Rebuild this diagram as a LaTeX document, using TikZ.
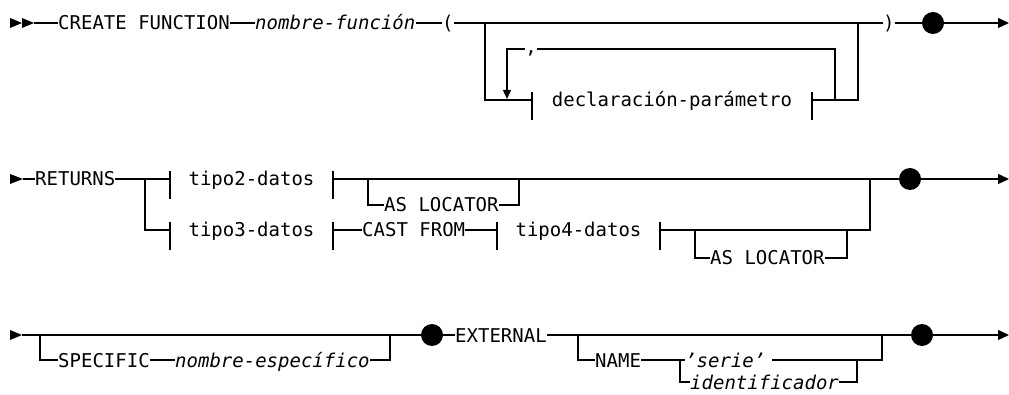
\documentclass[tikz,border=0pt]{standalone}
\usepackage{fontspec}
\setmainfont{DejaVu Sans Mono}
\usetikzlibrary{arrows.meta}
\tikzset{
  rr/.style={line width=1.3pt},
  txt/.style={inner xsep=0pt, inner ysep=0pt, text height=14pt, text depth=0pt, anchor=west, font=\fontsize{19}{22}\selectfont},
  itx/.style={txt, font=\fontsize{19}{22}\selectfont\itshape},
  dot/.style={circle, fill=black, minimum size=22pt, inner sep=0pt},
  endarrow/.style={rr, -{Triangle[length=11pt,width=10pt]}},
  looparrow/.style={rr, -{Triangle[length=9pt,width=8pt]}},
  startmark/.style={fill=black},
}
\newcommand{\barpair}[3]{% left x, right x, line y
  \draw[rr] (#1,#3-8) -- (#1,#3+20);
  \draw[rr] (#2,#3-8) -- (#2,#3+20);
}
\begin{document}
\begin{tikzpicture}[x=1pt,y=-1pt]
\useasboundingbox (0,0) rectangle (1009,395);
% ---------------- row 1
\fill[startmark] (10,18) -- (22,23) -- (10,28) -- cycle;
\fill[startmark] (22,18) -- (34,23) -- (22,28) -- cycle;
\coordinate (s1) at (34,23);
\node[txt] (cf) at (58,23) {CREATE FUNCTION};
\node[itx] (nf) at (255,23) {nombre-función};
\node[txt] (lp) at (442,23) {(};
\coordinate (j1a) at (485,23);
\coordinate (j1b) at (858,23);
\node[txt] (rp) at (883,23) {)};
\node[dot] (d1) at (933,23) {};
\coordinate (e1) at (1009,23);
\draw[rr] (s1) -- (cf.west);
\draw[rr] (cf.east) -- (nf.west);
\draw[rr] (nf.east) -- (lp.west);
\draw[rr] (lp.east) -- (j1b) -- (rp.west);
\draw[rr] (rp.east) -- (d1);
\draw[endarrow] (d1) -- (e1);
% parameter box
\coordinate (bl1) at (532,100);
\coordinate (br1) at (812,100);
\node[txt, anchor=center] (dp) at (672,100) {declaración-parámetro};
\barpair{532}{812}{100}
\draw[rr] (j1a) -- (485,100) -- (bl1);
\draw[rr] (br1) -- (858,100) -- (j1b);
% repeat loop with comma
\node[font=\fontsize{19}{22}\selectfont, inner sep=0pt, anchor=base] (cm) at (531,54) {,};
\coordinate (lp1) at (835,49);
\coordinate (lp2) at (507,49);
\draw[rr] (835,100) -- (lp1) -- (lp1 -| cm.east);
\draw[looparrow] (lp2 -| cm.west) -- (lp2) -- (507,99);
% ---------------- row 2
\fill[startmark] (10,174) -- (23,179) -- (10,184) -- cycle;
\coordinate (s2) at (23,179);
\node[txt] (ret) at (35,179) {RETURNS};
\coordinate (j2a) at (145,179);
\coordinate (j2b) at (870,179);
\node[txt, anchor=center] (t2) at (251.5,179) {tipo2-datos};
\barpair{170}{333}{179}
\draw[rr] (s2) -- (ret.west);
\draw[rr] (ret.east) -- (j2a) -- (170,179);
\node[dot] (d2) at (910,179) {};
\draw[rr] (333,179) -- (j2b) -- (d2);
\draw[endarrow] (d2) -- (1009,179);
\node[txt] (al1) at (384,205) {AS LOCATOR};
\draw[rr] (368,179) -- (368,205) -- (al1.west);
\draw[rr] (al1.east) -- (519,205) -- (519,179);
% lower alternative
\node[txt, anchor=center] (t3) at (251.5,230) {tipo3-datos};
\barpair{170}{333}{230}
\draw[rr] (j2a) -- (145,230) -- (170,230);
\node[txt] (cast) at (362,230) {CAST FROM};
\draw[rr] (333,230) -- (cast.west);
\draw[rr] (cast.east) -- (497,230);
\node[txt, anchor=center] (t4) at (578.5,230) {tipo4-datos};
\barpair{497}{660}{230}
\draw[rr] (660,230) -- (870,230) -- (j2b);
\node[txt] (al2) at (710,258) {AS LOCATOR};
\draw[rr] (695,230) -- (695,258) -- (al2.west);
\draw[rr] (al2.east) -- (847,258) -- (847,230);
% ---------------- row 3
\fill[startmark] (10,330) -- (22,335) -- (10,340) -- cycle;
\coordinate (s3) at (22,335);
\coordinate (j3a) at (40,335);
\coordinate (j3b) at (390,335);
\node[dot] (d3) at (432,335) {};
\draw[rr] (s3) -- (j3a) -- (j3b) -- (d3);
\node[txt] (sp) at (58,360) {SPECIFIC};
\node[itx] (ne) at (175,360) {nombre-específico};
\draw[rr] (j3a) -- (40,360) -- (sp.west);
\draw[rr] (sp.east) -- (ne.west);
\draw[rr] (ne.east) -- (390,360) -- (j3b);
\node[txt] (ext) at (455,335) {EXTERNAL};
\draw[rr] (d3) -- (ext.west);
\coordinate (j3c) at (578,335);
\coordinate (j3d) at (882,335);
\node[dot] (d4) at (922,335) {};
\draw[rr] (ext.east) -- (j3c) -- (j3d) -- (d4);
\draw[endarrow] (d4) -- (1009,335);
\node[txt] (nm) at (595,360) {NAME};
\coordinate (j3e) at (680,360);
\node[itx] (sr) at (685,360) {'serie'};
\node[itx] (id) at (690,382) {identificador};
\draw[rr] (j3c) -- (578,360) -- (nm.west);
\draw[rr] (nm.east) -- (j3e) -- (sr.west);
\draw[rr] ([xshift=7pt]sr.east) -- (882,360) -- (j3d);
\draw[rr] (j3e) -- (680,382) -- (id.west);
\draw[rr] (id.east) -- (857,382) -- (857,360);
\end{tikzpicture}
\end{document}
